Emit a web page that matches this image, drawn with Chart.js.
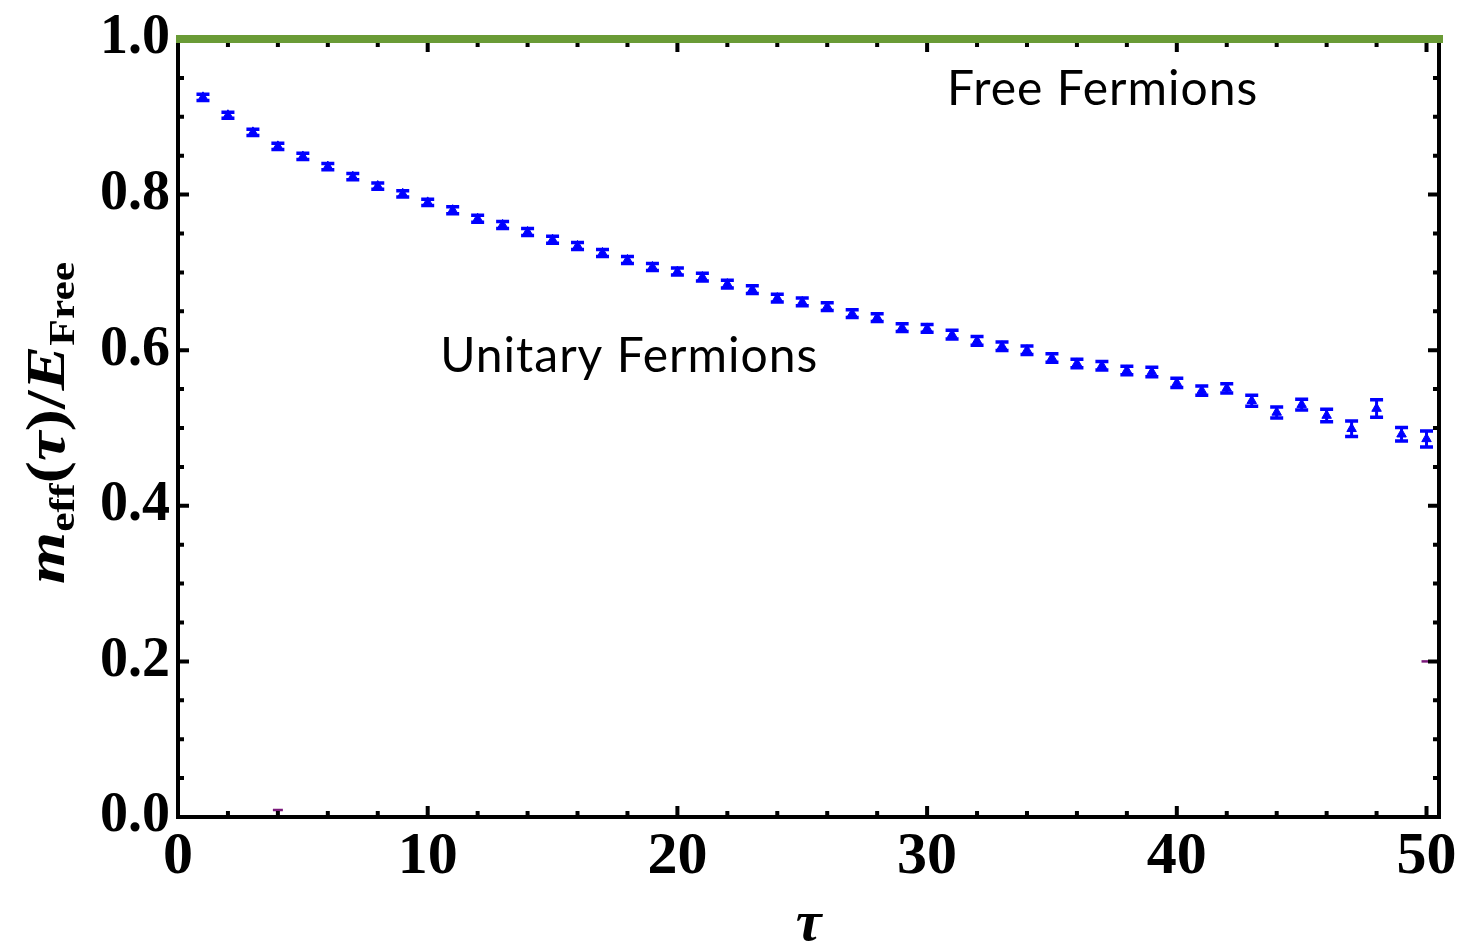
<!DOCTYPE html>
<html>
<head>
<meta charset="utf-8">
<script src="https://cdn.jsdelivr.net/npm/chart.js@4/dist/chart.umd.min.js"></script>
<style>
  html, body { margin: 0; padding: 0; background: #ffffff; }
  canvas { display: block; }
</style>
</head>
<body>
<canvas id="chart" width="1482" height="944"></canvas>
<script>
// Euclidean time slices
const tau = [1, 2, 3, 4, 5, 6, 7, 8, 9, 10,
             11, 12, 13, 14, 15, 16, 17, 18, 19, 20,
             21, 22, 23, 24, 25, 26, 27, 28, 29, 30,
             31, 32, 33, 34, 35, 36, 37, 38, 39, 40,
             41, 42, 43, 44, 45, 46, 47, 48, 49, 50];

// effective mass of the unitary system in units of the free-fermion energy
const meffRatio = [0.925, 0.902, 0.880, 0.862, 0.849, 0.836, 0.823, 0.811, 0.801, 0.790,
                   0.780, 0.769, 0.761, 0.752, 0.742, 0.734, 0.725, 0.716, 0.707, 0.701,
                   0.694, 0.685, 0.678, 0.667, 0.662, 0.656, 0.647, 0.642, 0.629, 0.628,
                   0.620, 0.612, 0.605, 0.600, 0.590, 0.583, 0.580, 0.574, 0.572, 0.558,
                   0.548, 0.551, 0.535, 0.520, 0.530, 0.516, 0.499, 0.525, 0.492, 0.486];

// statistical uncertainty of each point
const meffErr = [0.004, 0.004, 0.004, 0.004, 0.004, 0.004, 0.004, 0.004, 0.004, 0.004,
                 0.0045, 0.0045, 0.0045, 0.0045, 0.0045, 0.0045, 0.0045, 0.0045, 0.0045, 0.0045,
                 0.005, 0.005, 0.005, 0.005, 0.005, 0.005, 0.005, 0.005, 0.005, 0.005,
                 0.0055, 0.0055, 0.0055, 0.0055, 0.0055, 0.0055, 0.0055, 0.0055, 0.006, 0.006,
                 0.006, 0.006, 0.007, 0.007, 0.007, 0.008, 0.0099, 0.0113, 0.0086, 0.0103];

// free-fermion reference level
const freeLevel = 1.0;
const freeRange = [0, 50.5];

// two faint stray marks of a second data set
const strayTau = [4, 50];
const strayVal = [0.009, 0.2];

// axis ticks
const xTickValues = [0, 10, 20, 30, 40, 50];
const yTickValues = [0.0, 0.2, 0.4, 0.6, 0.8, 1.0];
const xMinorStep = 2;
const yMinorStep = 0.05;

const unitaryPoints = tau.map((t, i) => ({ x: t, y: meffRatio[i] }));
const strayPoints = strayTau.map((t, i) => ({ x: t, y: strayVal[i] }));

const SERIF = '"Liberation Serif", "Times New Roman", serif';
const BLUE = '#0000ff';

// error bars for the unitary data, drawn through the chart scales
const errorBars = {
  id: 'errorBars',
  afterDatasetsDraw(chart) {
    const { ctx, scales: { x, y } } = chart;
    ctx.save();
    ctx.strokeStyle = BLUE;
    tau.forEach((t, i) => {
      const px = x.getPixelForValue(t);
      const yt = y.getPixelForValue(meffRatio[i] + meffErr[i]);
      const yb = y.getPixelForValue(meffRatio[i] - meffErr[i]);
      ctx.lineWidth = 3;
      ctx.beginPath();
      ctx.moveTo(px, yt);
      ctx.lineTo(px, yb);
      ctx.stroke();
      ctx.lineWidth = 3.5;
      ctx.beginPath();
      ctx.moveTo(px - 6.5, yt);
      ctx.lineTo(px + 6.5, yt);
      ctx.moveTo(px - 6.5, yb);
      ctx.lineTo(px + 6.5, yb);
      ctx.stroke();
    });
    ctx.restore();
  }
};

// frame on four sides with inward major and minor ticks
const frame = {
  id: 'frame',
  afterDatasetsDraw(chart) {
    const { ctx, chartArea: a, scales: { x, y } } = chart;
    ctx.save();
    ctx.strokeStyle = '#000';
    ctx.lineWidth = 4;
    ctx.beginPath();
    ctx.moveTo(a.left, a.top - 2);
    ctx.lineTo(a.left, a.bottom + 2);
    ctx.moveTo(a.left - 2, a.bottom);
    ctx.lineTo(a.right + 2, a.bottom);
    ctx.moveTo(a.right, a.bottom + 2);
    ctx.lineTo(a.right, a.top - 2);
    ctx.stroke();

    ctx.beginPath();
    for (let v = xMinorStep; v < x.max; v += xMinorStep) {
      const px = x.getPixelForValue(v);
      const major = Math.abs(v % 10) < 1e-9;
      const len = major ? 11 : 6;
      ctx.moveTo(px, a.bottom);
      ctx.lineTo(px, a.bottom - len);
      ctx.moveTo(px, a.top);
      ctx.lineTo(px, a.top + len + 2);
    }
    const nY = Math.round((y.max - y.min) / yMinorStep);
    for (let k = 1; k < nY; k++) {
      const v = y.min + k * yMinorStep;
      const py = y.getPixelForValue(v);
      const major = k % 4 === 0;
      const len = major ? 11 : 6;
      ctx.moveTo(a.left, py);
      ctx.lineTo(a.left + len, py);
      ctx.moveTo(a.right, py);
      ctx.lineTo(a.right - len, py);
    }
    ctx.stroke();
    ctx.restore();
  }
};

// free-fermion line drawn on top of the frame
const topLine = {
  id: 'topLine',
  afterDraw(chart) {
    const { ctx, scales: { x, y } } = chart;
    const py = y.getPixelForValue(freeLevel);
    ctx.save();
    ctx.strokeStyle = '#6a9b36';
    ctx.lineWidth = 8;
    ctx.beginPath();
    ctx.moveTo(x.getPixelForValue(freeRange[0]) - 2, py);
    ctx.lineTo(x.getPixelForValue(freeRange[1]) + 4, py);
    ctx.stroke();
    ctx.restore();
  }
};

// in-plot labels
const labels = [
  { text: 'Free Fermions', x: 30.8, y: 0.915 },
  { text: 'Unitary Fermions', x: 10.5, y: 0.572 }
];
const plotLabels = {
  id: 'plotLabels',
  afterDraw(chart) {
    const { ctx, scales: { x, y } } = chart;
    ctx.save();
    ctx.fillStyle = '#000';
    ctx.font = '48px Lato, "Open Sans", sans-serif';
    ctx.letterSpacing = '1px';
    ctx.textAlign = 'left';
    ctx.textBaseline = 'alphabetic';
    labels.forEach(l => ctx.fillText(l.text, x.getPixelForValue(l.x), y.getPixelForValue(l.y)));
    ctx.restore();
  }
};

// rotated y-axis title with subscripts
const yTitleParts = [
  { t: 'm', font: 'italic bold 54px', sub: false },
  { t: 'eff', font: 'bold 35px', sub: true },
  { t: '(', font: 'bold 54px', sub: false },
  { t: 'τ', font: 'italic bold 54px', sub: false },
  { t: ')/', font: 'bold 54px', sub: false },
  { t: 'E', font: 'italic bold 54px', sub: false },
  { t: 'Free', font: 'bold 35px', sub: true }
];
const yTitle = {
  id: 'yTitle',
  afterDraw(chart) {
    const { ctx } = chart;
    ctx.save();
    ctx.fillStyle = '#000';
    let total = 0;
    const widths = yTitleParts.map(p => {
      ctx.font = p.font + ' ' + SERIF;
      const w = ctx.measureText(p.t).width;
      total += w;
      return w;
    });
    const target = 322;
    const sx = target / total;
    ctx.translate(64, 423);
    ctx.rotate(-Math.PI / 2);
    ctx.scale(sx, 1);
    ctx.textBaseline = 'alphabetic';
    let cx = -total / 2;
    yTitleParts.forEach((p, i) => {
      ctx.font = p.font + ' ' + SERIF;
      ctx.fillText(p.t, cx, p.sub ? 10 : 0);
      cx += widths[i];
    });
    ctx.restore();
  }
};

new Chart(document.getElementById('chart'), {
  type: 'scatter',
  data: {
    datasets: [
      {
        label: 'Unitary Fermions',
        data: unitaryPoints,
        pointStyle: 'triangle',
        pointRadius: 5.5,
        pointBackgroundColor: BLUE,
        pointBorderColor: BLUE,
        pointBorderWidth: 1,
        showLine: false
      },
      {
        label: 'stray',
        data: strayPoints,
        pointStyle: 'line',
        pointRadius: 5,
        pointBorderColor: '#7b1a7b',
        pointBorderWidth: 2.5,
        showLine: false
      }
    ]
  },
  options: {
    responsive: false,
    animation: false,
    events: [],
    layout: { padding: { top: 39, right: 43, left: 0, bottom: 0 } },
    plugins: {
      legend: { display: false },
      tooltip: { enabled: false }
    },
    scales: {
      x: {
        type: 'linear',
        min: 0,
        max: freeRange[1],
        grid: { display: false, drawTicks: false },
        border: { display: false },
        afterBuildTicks(scale) { scale.ticks = xTickValues.map(v => ({ value: v })); },
        afterFit(scale) { scale.height = 127; },
        ticks: {
          color: '#000',
          padding: 10,
          maxRotation: 0,
          autoSkip: false,
          font: { family: SERIF, weight: 'bold', size: 60, lineHeight: 1 },
          callback: v => String(v)
        },
        title: {
          display: true,
          text: 'τ',
          color: '#000',
          padding: { top: 0, bottom: 0 },
          font: { family: SERIF, weight: 'bold', style: 'italic', size: 58, lineHeight: 0.66 }
        }
      },
      y: {
        type: 'linear',
        min: 0,
        max: 1,
        grid: { display: false, drawTicks: false },
        border: { display: false },
        afterBuildTicks(scale) { scale.ticks = yTickValues.map(v => ({ value: v })); },
        afterFit(scale) { scale.width = 178; },
        ticks: {
          color: '#000',
          padding: 8,
          autoSkip: false,
          font: { family: SERIF, weight: 'bold', size: 56, lineHeight: 1 },
          callback: v => v.toFixed(1)
        }
      }
    }
  },
  plugins: [errorBars, frame, topLine, plotLabels, yTitle]
});
</script>
</body>
</html>
